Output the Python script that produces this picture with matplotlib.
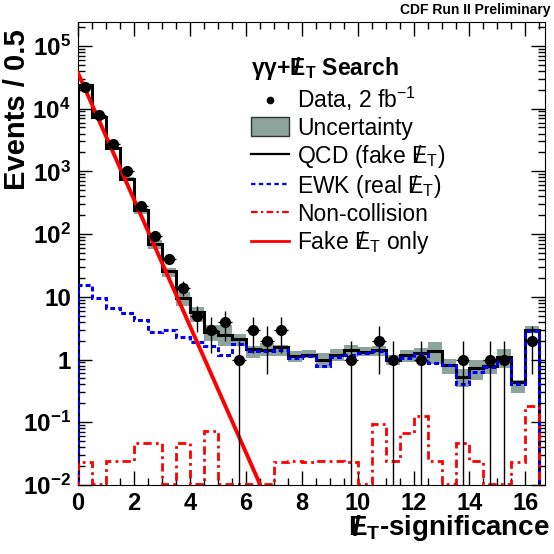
import numpy as np
import matplotlib
matplotlib.use('Agg')
import matplotlib.pyplot as plt
from matplotlib.lines import Line2D
from matplotlib.patches import Patch
from matplotlib.ticker import LogLocator, NullFormatter, FuncFormatter, MultipleLocator

plt.rcParams['font.family'] = ['Liberation Sans', 'DejaVu Sans']
plt.rcParams['font.weight'] = 'bold'
plt.rcParams['axes.labelweight'] = 'bold'
plt.rcParams['mathtext.default'] = 'regular'

# binning: 0.5 wide bins from 0 to 16.5
edges = np.arange(0, 16.75, 0.5)
centers = 0.5 * (edges[:-1] + edges[1:])

# data counts per bin
data = np.array([22100, 7900, 2720, 1000, 275, 92, 40, 14, 5, 3, 4, 1, 3, 2, 3,
                 0, 0, 0, 0, 1, 0, 2, 1, 0, 1, 0, 0, 1, 0, 1, 1, 0, 2], dtype=float)

# total prediction (black line)
total = np.array([23800, 7350, 2350, 750, 240, 69, 25.5, 9.5, 5.7, 2.73, 2.5, 2.1,
                  1.48, 1.44, 1.57, 1.12, 1.2, 1.0, 1.2, 1.4, 1.34, 1.4, 1.0, 1.16,
                  1.29, 1.38, 0.82, 0.535, 0.74, 0.80, 1.09, 0.44, 3.0])

# uncertainty band
band_hi = np.array([25000, 7700, 2470, 800, 258, 80, 28.8, 11.8, 6.85, 3.49, 3.57, 2.55,
                    1.67, 1.84, 1.69, 1.35, 1.44, 1.28, 1.48, 1.73, 1.59, 1.64, 1.17, 1.43,
                    1.50, 1.92, 1.01, 0.71, 0.99, 0.99, 1.45, 0.48, 3.39])
band_lo = np.array([22600, 7000, 2230, 700, 207, 57.4, 20.4, 7.26, 3.94, 2.01, 1.67, 1.67,
                    1.06, 1.13, 1.13, 0.93, 1.04, 0.72, 0.96, 1.09, 1.14, 1.14, 0.81, 0.91,
                    0.92, 0.86, 0.58, 0.37, 0.48, 0.59, 0.74, 0.29, 2.66])

# EWK (real MET)
ewk = np.array([15.6, 9.7, 6.7, 5.5, 4.3, 2.75, 3.0, 2.27, 1.89, 1.66, 1.19, 1.74,
                1.37, 1.39, 1.43, 1.06, 1.12, 0.78, 1.09, 1.2, 1.26, 1.39, 0.97, 1.05,
                1.23, 0.89, 0.81, 0.41, 0.64, 0.76, 0.98, 0.41, 2.8])

# non-collision
noncoll = np.array([0.023, 0, 0.024, 0.024, 0.0475, 0.0475, 0, 0.0475, 0, 0.073, 0, 0,
                    0, 0, 0.023, 0.024, 0.023, 0.024, 0.024, 0.023, 0, 0.094, 0.024, 0.0675,
                    0.124, 0.024, 0, 0.046, 0.024, 0, 0, 0.023, 0.184])

# fake MET only fit (straight line on log scale)
fake_x = [0.0, 6.52]
fake_y = [3.7e4, 1.0e-2]

ymin, ymax = 1e-2, 2.4e5
band_col = '#8ca49b'
met = r'$E\!\!\!/\:{}_T$'

fig = plt.figure(figsize=(5.54, 5.54), dpi=100)
ax = fig.add_axes([78/554, 69/554, 467/554, 463/554])
ax.set_yscale('log')

ax.stairs(band_hi, edges, baseline=band_lo, fill=True, color=band_col, lw=0, zorder=1)
ax.stairs(total, edges, baseline=1e-3, color='black', lw=2.2, zorder=3)
ax.stairs(ewk, edges, baseline=1e-3, color='#0000ff', lw=2.2,
          linestyle=(0, (1.6, 1.0)), zorder=4)
ax.stairs(np.where(noncoll > 0, noncoll, 1.05e-2), edges, baseline=1e-3, color='red',
          lw=2.0, linestyle=(0, (3, 1.5, 1, 1.5)), zorder=4)
ax.plot(fake_x, fake_y, color='red', lw=2.8, zorder=5)

m = data > 0
d = data[m]
err = np.sqrt(d)
lo = d - np.maximum(d - err, 1e-4)
ax.errorbar(centers[m], d, xerr=0.25, yerr=[lo, err], fmt='o', color='black',
            ms=7, elinewidth=1, capsize=0, zorder=6)

ax.set_xlim(0, 16.7)
ax.set_ylim(ymin, ymax)

ax.xaxis.set_major_locator(MultipleLocator(2))
ax.xaxis.set_minor_locator(MultipleLocator(0.5))
ax.yaxis.set_major_locator(LogLocator(base=10, numticks=20))
ax.yaxis.set_minor_locator(LogLocator(base=10, subs=np.arange(2, 10), numticks=20))
ax.yaxis.set_minor_formatter(NullFormatter())


def yfmt(v, pos):
    e = int(round(np.log10(v)))
    if e == 0:
        return '1'
    if e == 1:
        return '10'
    return r'$10^{%d}$' % e


ax.yaxis.set_major_formatter(FuncFormatter(yfmt))
ax.tick_params(which='both', direction='in', top=True, right=True, width=1)
ax.tick_params(which='major', length=10)
ax.tick_params(which='minor', length=5)
ax.tick_params(axis='y', pad=5, labelsize=17.5)
ax.tick_params(axis='x', pad=5, labelsize=17)

ax.set_xlabel(met + '-significance', fontsize=20, loc='right')
ax.xaxis.set_label_coords(1.01, -0.06)
ax.set_ylabel('Events / 0.5', fontsize=21, loc='top')
ax.yaxis.set_label_coords(-0.1, 0.985)

handles = [
    Line2D([], [], marker='o', color='black', ls='none', ms=4.5),
    Patch(facecolor=band_col, edgecolor='#333333', lw=1),
    Line2D([], [], color='black', lw=1.6),
    Line2D([], [], color='#0000ff', lw=1.6, ls=(0, (2, 1.5))),
    Line2D([], [], color='red', lw=1.6, ls=(0, (3, 1.5, 1, 1.5))),
    Line2D([], [], color='red', lw=2.0),
]
labels = ['Data, 2 fb$^{-1}$', 'Uncertainty', 'QCD (fake ' + met + ')',
          'EWK (real ' + met + ')', 'Non-collision', 'Fake ' + met + ' only']
ax.legend(handles, labels, loc='upper left', bbox_to_anchor=(251/554, 1 - 55/554),
          bbox_transform=fig.transFigure, frameon=False,
          prop={'size': 16.5, 'weight': 'normal'},
          title=r'$\gamma\gamma$+' + met + ' Search',
          title_fontproperties={'size': 16.5, 'weight': 'bold'}, alignment='left',
          handlelength=1.66, handleheight=0.92, handletextpad=0.35, labelspacing=0.14,
          borderpad=0, borderaxespad=0)

fig.text(550/554, 1 - 3/554, 'CDF Run II Preliminary', ha='right', va='top',
         fontsize=10, fontweight='bold')

fig.savefig('out.png', dpi=100)
